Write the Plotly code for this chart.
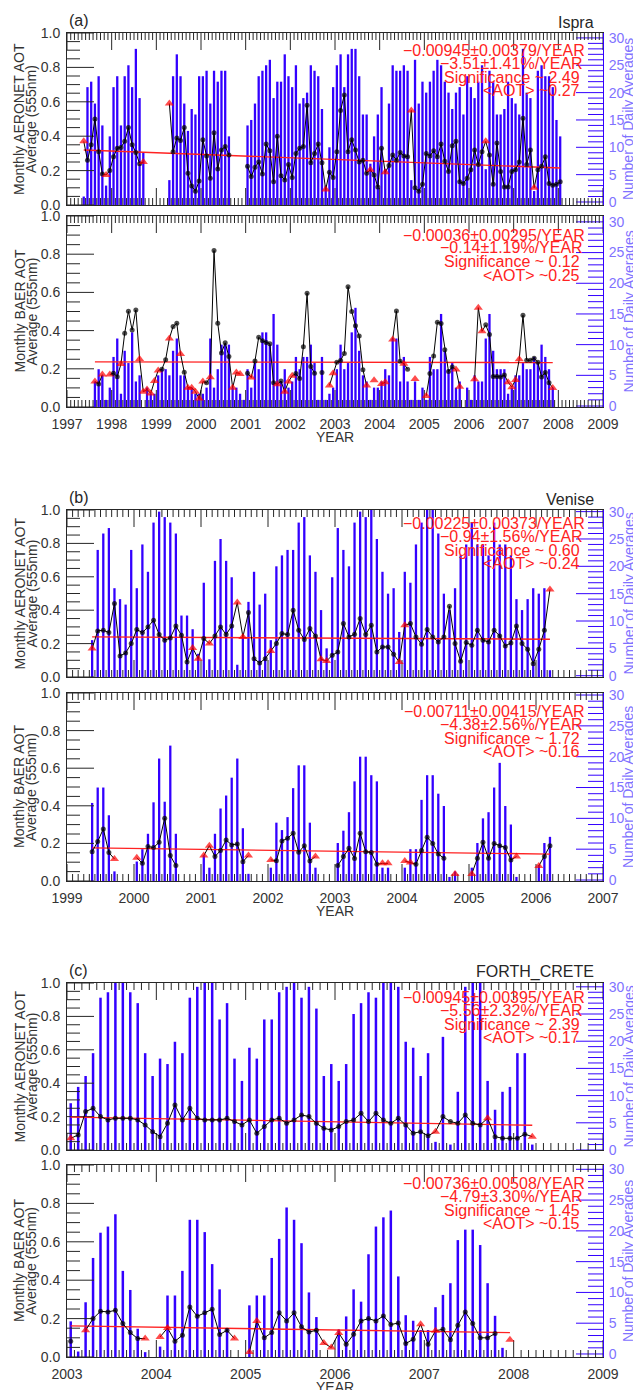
import plotly.graph_objects as go

# ---------------- DATA ----------------
N = None
A1_FIRST = (1997, 5)
A1_AOT = ([0.37, 0.26, 0.35, 0.50, 0.31, 0.18, 0.175, 0.20, 0.28, 0.33, 0.335, 0.37, 0.45, 0.35, 0.305, 0.24, 0.25]
          + [N] * 6
          + [0.59, 0.31, 0.39, 0.375, 0.45, 0.185, 0.11, 0.08, 0.14, 0.38, 0.285, 0.155, 0.42, 0.21, 0.32, 0.34, 0.29]
          + [N] * 4
          + [0.225, 0.165, 0.22, 0.25, 0.18, 0.355, 0.315, 0.135, 0.40, 0.17, 0.145, 0.235, 0.16, 0.30, 0.33, 0.34, 0.58, 0.245, 0.30, 0.355,
             0.245, 0.09, 0.19, 0.16, 0.31, 0.55, 0.64, 0.31, 0.38, 0.32, 0.25, 0.26, 0.185, 0.205, 0.175, 0.105, 0.33, 0.19, 0.23, 0.29,
             0.26, 0.305, 0.285, 0.28, 0.55, 0.10, 0.08, 0.12, 0.30, 0.285, 0.315, 0.28, 0.355, 0.255, 0.195, 0.345, 0.37, 0.135, 0.125, 0.155,
             0.205, 0.32, 0.235, 0.31, 0.37, 0.29, 0.12, 0.36, 0.195, 0.105, 0.105, 0.195, 0.205, 0.25, 0.505, 0.235, 0.32, 0.10, 0.205, 0.225,
             0.28, 0.125, 0.115, 0.12, 0.135])
A1_CNT = ([1, 21, 22, 18, 23, 14, 3, 12, 21, 23, 14, 23, 25, 21, 28, 19, 9]
          + [0] * 6
          + [4, 23, 27, 23, 18, 13, 17, 16, 23, 23, 24, 18, 24, 22, 24, 24, 12]
          + [0] * 4
          + [14, 15, 18, 23, 24, 25, 26, 19, 22, 22, 27, 23, 21, 25, 18, 19, 20, 25, 24, 23,
             17, 3, 10, 21, 25, 27, 21, 27, 28, 28, 23, 16, 16, 7, 12, 16, 21, 6, 18, 25,
             24, 24, 25, 24, 4, 26, 18, 22, 20, 22, 24, 26, 25, 22, 20, 17, 20, 21, 16, 23,
             21, 19, 22, 25, 6, 24, 22, 16, 16, 17, 22, 19, 18, 16, 28, 20, 19, 2, 24, 25,
             23, 23, 21, 15, 12])
A1_TRI = [0, 6, 16, 23, 65, 77, 81, 88, 108, 121]
A1_TREND = [0.32, 0.215]
A1_STATS = ["\u22120.00945\u00b10.00379/YEAR", "\u22123.51\u00b11.41%/YEAR", "Significance ~ 2.49", "<AOT> ~0.27"]

A2_FIRST = (1997, 8)
A2_AOT = [0.133, 0.12, 0.17, N, 0.17, 0.177, 0.159, 0.225, 0.386, 0.501, 0.403, 0.508, 0.251, 0.080, 0.092, 0.071, 0.136, 0.191, 0.198, 0.248,
          0.359, 0.421, 0.439, 0.278, 0.182, 0.101, 0.101, 0.080, 0.044, 0.133, 0.127, 0.156, 0.819, 0.439, 0.283, 0.336, 0.264, 0.101, 0.181, 0.173,
          N, 0.177, 0.154, 0.241, 0.365, 0.347, 0.338, 0.331, 0.127, 0.119, 0.136, 0.080, 0.133, 0.163, 0.175, 0.149, 0.315, 0.596, 0.212, 0.177,
          N, 0.18, N, 0.113, 0.177, 0.234, 0.244, 0.28, 0.63, 0.50, 0.425, 0.372, 0.195, 0.113, N, 0.14, N, 0.12, 0.13, N,
          0.354, 0.503, 0.239, 0.227, 0.198, N, 0.147, N, N, 0.058, 0.175, 0.267, 0.444, 0.437, 0.30, 0.186, 0.209, 0.196, 0.106, N,
          N, N, 0.145, 0.52, 0.396, 0.43, 0.38, 0.16, 0.16, 0.157, 0.168, 0.13, 0.104, 0.142, 0.25, 0.48, 0.245, 0.245, 0.255, 0.234,
          0.157, 0.181, 0.127, 0.10]
A2_CNT = [4, 6, 5, 1, 3, 8, 11, 2, 9, 7, 12, 4, 5, 0, 3, 2, 2, 5, 6, 6,
          5, 9, 11, 5, 5, 3, 3, 2, 2, 2, 3, 11, 3, 6, 10, 10, 10, 3, 3, 2,
          1, 6, 3, 7, 6, 12, 12, 10, 15, 10, 4, 6, 3, 4, 8,
          6, 8, 8, 10, 7, 1, 8, 1, 2, 3, 6, 10, 6, 7, 12, 16, 9, 5, 4, 1,
          3, 3, 4, 6, 5, 11, 11, 4, 8, 4, 1, 4, 1, 3, 1, 8, 6, 6, 15, 9,
          6, 7, 3, 4, 0, 3, 1, 5, 4, 4, 11, 15, 9, 6, 6, 6, 2, 3, 5, 5,
          7, 6, 6, 8, 7, 10, 8, 6, 3]
A2_TRI = [0, 2, 4, 7, 12, 13, 14, 15, 16, 17, 20, 23, 25, 26, 27, 28, 29, 31, 37, 38, 39, 42, 49, 51, 52, 53,
          63, 64, 73, 75, 77, 78, 80, 83, 86, 89, 97, 98, 102, 103, 104, 111, 112, 113, 114, 123]
A2_TREND = [0.236, 0.233]
A2_STATS = ["\u22120.00036\u00b10.00295/YEAR", "\u22120.14\u00b11.19%/YEAR", "Significance ~ 0.12", "<AOT> ~0.25"]

B1_FIRST = (1999, 5)
B1_AOT = [0.17, 0.276, 0.28, 0.266, 0.44, 0.126, 0.144, 0.20, 0.284, 0.266, 0.30, 0.34, 0.254, 0.22, 0.234, 0.306, 0.25, 0.09, 0.174, 0.11,
          0.23, 0.20, 0.246, 0.30, 0.254, 0.306, 0.446, 0.24, 0.386, 0.11, 0.084, 0.11, 0.156, 0.20, 0.26, 0.254, 0.40, 0.28, 0.224, 0.29,
          0.246, 0.106, 0.096, 0.13, 0.15, 0.32, 0.24, 0.256, 0.35, 0.254, 0.31, 0.15, 0.18, 0.18, 0.136, 0.09, 0.31, 0.32, 0.24, 0.196,
          0.284, 0.24, 0.21, 0.24, 0.424, 0.20, 0.094, 0.206, 0.19, 0.28, 0.22, 0.21, 0.28, 0.246, 0.186, 0.204, 0.306, 0.20, 0.166, 0.08,
          0.166, 0.28, 0.524]
B1_CNT = [6.5, 23, 26, 27, 16, 14, 13, 23, 16, 24, 19, 28, 30, 29, 28, 26, 11, 11, 8.5, 4,
          17, 3, 21, 25, 21, 18, 2, 7, 13.5, 19, 13, 15, 6.5, 20, 22, 23, 23, 28, 29, 22,
          19, 12, 5, 18, 27, 23, 20, 28, 30, 29, 31, 25, 19, 15, 16, 8, 19, 17, 24, 28,
          31, 31, 26, 15, 12, 16, 22, 24, 28, 24, 24, 22, 28, 24, 24, 22, 14, 12, 14, 16,
          15, 16, 1]
B1_TRI = [0, 18, 19, 21, 26, 27, 32, 41, 42, 55, 56, 82]
B1_TREND = [0.24, 0.226]
B1_STATS = ["\u22120.00225\u00b10.00373/YEAR", "\u22120.94\u00b11.56%/YEAR", "Significance ~ 0.60", "<AOT> ~0.24"]

B2_FIRST = (1999, 5)
B2_AOT = [0.156, 0.21, 0.277, 0.151, 0.117, N, N, N, 0.124, 0.094, 0.183, 0.178, 0.206, 0.334, 0.135, 0.082, N, N, N, N,
          0.135, 0.188, 0.13, 0.162, 0.218, 0.192, 0.197, 0.103, 0.135, N, N, N, 0.112, 0.108, 0.213, 0.227, 0.254, 0.153, 0.188, 0.107,
          0.13, N, N, N, 0.082, 0.13, 0.174, 0.12, 0.254, 0.156, 0.151, 0.089, 0.094, 0.094, N, N, 0.107, 0.098, 0.089, 0.162,
          0.233, 0.20, 0.144, 0.121, N, 0.037, N, N, 0.037, 0.121, 0.206, 0.121, 0.20, 0.188, 0.178, 0.112, 0.13, N, N, N,
          0.08, 0.13, 0.187]
B2_CNT = [12.5, 15, 15, 10.5, 1.4, 0, 0, 0, 3, 5, 7.5, 12.6, 19.7, 12.7, 21.8, 7.5, 0, 0, 0, 0,
          4, 2, 7.5, 11.6, 13.7, 16.6, 19.7, 8.4, 1, 0, 0, 0, 2, 9.3, 8.1, 10.2, 14.9, 18.6, 18.6, 9.3,
          2, 0, 0, 0, 6, 8, 11, 16, 20, 20, 17, 16, 2, 2, 0, 0, 2, 5, 5, 13,
          17, 17, 14, 12, 0.5, 1.4, 0, 0, 2, 6, 10, 11, 15, 19, 12, 9, 0.5, 0, 0, 0,
          2.4, 6, 7]
B2_TRI = [4, 8, 20, 21, 28, 32, 40, 52, 53, 56, 57, 65, 68, 76, 80]
B2_TREND = [0.176, 0.143]
B2_STATS = ["\u22120.00711\u00b10.00415/YEAR", "\u22124.38\u00b12.56%/YEAR", "Significance ~ 1.72", "<AOT> ~0.16"]

C1_FIRST = (2003, 1)
C1_AOT = [0.07, 0.09, 0.23, 0.25, 0.20, 0.18, 0.19, 0.19, 0.19, 0.18, 0.15, 0.11, 0.08, 0.16, 0.27, 0.18, 0.25, 0.19, 0.18, 0.18,
          0.18, 0.19, 0.17, 0.15, 0.18, 0.10, 0.14, 0.18, 0.19, 0.16, 0.18, 0.21, 0.20, 0.16, 0.13, 0.12, 0.14, 0.17, 0.18, 0.22,
          0.17, 0.22, 0.18, 0.16, 0.19, 0.15, 0.10, 0.11, 0.085, 0.11, 0.20, 0.17, 0.16, 0.21, 0.16, 0.15, 0.19, 0.08, 0.07, 0.07,
          0.07, 0.095, 0.08]
C1_CNT = [8.6, 11.6, 13.6, 17.8, 28, 29, 31, 31, 29, 27, 17.8, 13.6, 16.8, 15.8, 19.9, 17.8, 28, 30, 31, 31,
          24, 27, 16.8, 12.7, 18.8, 16.8, 24, 24, 29, 30, 31, 28, 30, 26, 13.6, 15.8, 12.7, 15.8, 25, 27,
          29, 28, 31, 31, 30, 19.9, 18.8, 13.6, 17.8, 1.5, 20.8, 1, 10.7, 30, 31, 31, 12.7, 7.4, 10.7, 11.6,
          17.8, 17.8, 1]
C1_TRI = [0, 49, 56, 62]
C1_TREND = [0.197, 0.148]
C1_STATS = ["\u22120.00945\u00b10.00395/YEAR", "\u22125.56\u00b12.32%/YEAR", "Significance ~ 2.39", "<AOT> ~0.17"]

C2_FIRST = (2003, 1)
C2_AOT = [0.082, N, 0.139, 0.20, 0.238, 0.235, 0.243, 0.174, 0.127, 0.096, 0.096, N, 0.104, 0.151, 0.082, 0.113, 0.261, 0.212, 0.23, 0.249,
          0.117, 0.139, 0.096, N, 0.026, 0.188, 0.10, 0.127, 0.23, 0.188, 0.23, 0.157, 0.13, 0.139, 0.073, 0.049, 0.125, 0.066, 0.118, 0.188,
          0.20, 0.188, 0.214, 0.169, 0.177, 0.07, 0.092, 0.17, 0.066, 0.137, 0.144, 0.09, 0.165, 0.235, 0.174, 0.10, 0.10, 0.122, N, 0.09]
C2_CNT = [5.3, 0.4, 8.4, 15.6, 19.7, 20.7, 22.7, 13.5, 10.4, 4.1, 0.3, 0, 1.2, 9.5, 9.5, 13.5, 21.8, 21.8, 19.8, 14.6,
          10.5, 4.1, 0, 0, 7.9, 9.5, 9.5, 15.6, 18.7, 23.8, 21.8, 18, 10, 6, 0, 0, 4, 6.1, 10.5, 8.5,
          16.2, 20.7, 22.2, 23.3, 12.6, 6.3, 5.4, 3.9, 3.9, 7.6, 9.6, 11.5, 18.5, 20.2, 20.2, 17.7, 11.5, 6.2, 1, 0]
C2_TRI = [2, 10, 12, 13, 22, 24, 25, 34, 35, 36, 47, 49, 59]
C2_TREND = [0.162, 0.127]
C2_STATS = ["\u22120.00736\u00b10.00508/YEAR", "\u22124.79\u00b13.30%/YEAR", "Significance ~ 1.45", "<AOT> ~0.15"]

AERONET_TITLE = ["Monthly AERONET AOT", "Average (555nm)"]
BAER_TITLE = ["Monthly BAER AOT", "Average (555nm)"]
RIGHT_TITLE = "Number of Daily Averages"
SITES = [("(a)", "Ispra"), ("(b)", "Venise"), ("(c)", "FORTH_CRETE")]

# ---------------- STYLE / LAYOUT ----------------
W, H = 633, 1390
FONT = "Liberation Sans, Arial, Helvetica, sans-serif"
BLUE = "#3300ff"
LBLUE = "#7f72ff"
RED = "#ff2222"
DARK = "#262626"
GREY = "#333333"
XL, XR = 67, 603

PANELS = [
    dict(first=A1_FIRST, aot=A1_AOT, cnt=A1_CNT, tri=A1_TRI, trend=A1_TREND, stats=A1_STATS, title=AERONET_TITLE,
         xr=(1997, 2009), top=33, bot=205, rr=(-0.55, 30.9), labels=False, bw=2.3, sy=50),
    dict(first=A2_FIRST, aot=A2_AOT, cnt=A2_CNT, tri=A2_TRI, trend=A2_TREND, stats=A2_STATS, title=BAER_TITLE,
         xr=(1997, 2009), top=216, bot=407, rr=(-0.16, 30.96), labels=True, bw=2.3, sy=235),
    dict(first=B1_FIRST, aot=B1_AOT, cnt=B1_CNT, tri=B1_TRI, trend=B1_TREND, stats=B1_STATS, title=AERONET_TITLE,
         xr=(1999, 2007), top=510, bot=677, rr=(-0.24, 30.3), labels=False, bw=2.3, sy=523),
    dict(first=B2_FIRST, aot=B2_AOT, cnt=B2_CNT, tri=B2_TRI, trend=B2_TREND, stats=B2_STATS, title=BAER_TITLE,
         xr=(1999, 2007), top=693, bot=881, rr=(-0.16, 30.33), labels=True, bw=2.3, sy=711),
    dict(first=C1_FIRST, aot=C1_AOT, cnt=C1_CNT, tri=C1_TRI, trend=C1_TREND, stats=C1_STATS, title=AERONET_TITLE,
         xr=(2003, 2009), top=983, bot=1150, rr=(0.0, 30.7), labels=False, bw=2.5, sy=997),
    dict(first=C2_FIRST, aot=C2_AOT, cnt=C2_CNT, tri=C2_TRI, trend=C2_TREND, stats=C2_STATS, title=BAER_TITLE,
         xr=(2003, 2009), top=1165, bot=1357, rr=(-0.49, 30.7), labels=True, bw=2.5, sy=1183),
]
STAT_DX = [587, 585, 582, 582]
STAT_DY = [0, 13, 27, 40]
# tick lengths in pixels (IDL-like inside ticks)
X_MAJ, X_MIN = 17, 7
L_MAJ, L_MIN = 27, 13
R_MAJ, R_MIN = 27, 15


def px(x):
    return x / W


def py(y):
    return 1 - y / H


def months(first, n):
    y0, m0 = first
    return [y0 + (m0 - 1 + 0.5 + i) / 12.0 for i in range(n)]


def segs(pairs):
    xs, ys = [], []
    for (xa, ya_), (xb, yb) in pairs:
        xs += [xa, xb, None]
        ys += [ya_, yb, None]
    return xs, ys


fig = go.Figure()
layout = dict(width=W, height=H, margin=dict(l=0, r=0, t=0, b=0, pad=0, autoexpand=False), showlegend=False,
              paper_bgcolor="white", plot_bgcolor="white", font=dict(family=FONT, color=GREY),
              barmode="overlay", template="none")
annotations = []

for i, p in enumerate(PANELS):
    xid = "x" if i == 0 else f"x{i+1}"
    yc = "y" if i == 0 else f"y{2*i+1}"
    ya = f"y{2*i+2}"
    xkey = "xaxis" if i == 0 else f"xaxis{i+1}"
    yckey = "yaxis" if i == 0 else f"yaxis{2*i+1}"
    yakey = f"yaxis{2*i+2}"

    n = len(p["aot"])
    xs = months(p["first"], n)
    x0, x1 = p["xr"]
    yrs = x1 - x0
    hp = p["bot"] - p["top"]
    dxp = yrs / (XR - XL)          # years per pixel
    r0, r1 = p["rr"]
    dcp = (r1 - r0) / hp           # counts per pixel
    bw = p["bw"] * dxp

    # bars (number of daily averages) on the right-hand axis
    fig.add_trace(go.Bar(x=xs, y=[(c - r0) if c else None for c in p["cnt"]], base=r0, width=bw,
                         marker=dict(color=BLUE, line=dict(width=0)), xaxis=xid, yaxis=yc,
                         hoverinfo="skip"))
    # right axis tick marks (blue, inside)
    rt = []
    for c in range(0, 31):
        if c > r1:
            break
        L = R_MAJ if c % 5 == 0 else R_MIN
        rt.append(((x1 - L * dxp, c), (x1, c)))
    tx, ty = segs(rt)
    fig.add_trace(go.Scatter(x=tx, y=ty, mode="lines", line=dict(color=BLUE, width=1),
                             xaxis=xid, yaxis=yc, hoverinfo="skip"))

    # left axis + x axis tick marks (dark, inside)
    lt = []
    for j in range(0, 21):
        v = j * 0.05
        L = L_MAJ if j % 4 == 0 else L_MIN
        lt.append(((x0, v), (x0 + L * dxp, v)))
    for k in range(0, yrs * 12 + 1):
        xv = x0 + k / 12.0
        L = X_MAJ if k % 12 == 0 else X_MIN
        lt.append(((xv, 0), (xv, L / hp)))
        lt.append(((xv, 1), (xv, 1 - L / hp)))
    tx, ty = segs(lt)
    fig.add_trace(go.Scatter(x=tx, y=ty, mode="lines", line=dict(color=DARK, width=1),
                             xaxis=xid, yaxis=ya, hoverinfo="skip"))

    # trend line
    valid = [k for k, v in enumerate(p["aot"]) if v is not None]
    fig.add_trace(go.Scatter(x=[xs[valid[0]], xs[valid[-1]]], y=p["trend"], mode="lines",
                             line=dict(color=RED, width=1.4), xaxis=xid, yaxis=ya, hoverinfo="skip"))
    # monthly AOT
    tri = set(p["tri"])
    fig.add_trace(go.Scatter(x=xs, y=p["aot"], mode="lines+markers", connectgaps=False,
                             line=dict(color="black", width=1),
                             marker=dict(symbol=["triangle-up" if k in tri else "circle" for k in range(n)],
                                         color=["#ff0000" if k in tri else "black" for k in range(n)],
                                         size=[8 if k in tri else 5 for k in range(n)],
                                         line=dict(width=0)),
                             xaxis=xid, yaxis=ya, hoverinfo="skip"))

    dom = [py(p["bot"]), py(p["top"])]
    layout[xkey] = dict(domain=[px(XL), px(XR)], range=[x0, x1], anchor=yc, automargin=False,
                        showline=True, linecolor=DARK, linewidth=1, mirror=True, ticks="",
                        dtick=1, tick0=2000, tickformat="d", showticklabels=p["labels"],
                        ticklabelstandoff=4,
                        tickfont=dict(size=14, color=GREY, family=FONT),
                        showgrid=False, zeroline=False)
    layout[yckey] = dict(domain=dom, range=[r0, r1], anchor=xid, side="right", automargin=False,
                         showline=True, linecolor=BLUE, linewidth=1, ticks="",
                         dtick=5, tick0=0, ticklabelstandoff=2,
                         tickfont=dict(size=14, color=LBLUE, family=FONT),
                         showgrid=False, zeroline=False)
    layout[yakey] = dict(overlaying=yc, anchor=xid, side="left", range=[0, 1], automargin=False,
                         showline=True, linecolor=DARK, linewidth=1, ticks="",
                         dtick=0.2, tick0=0, tickformat=".1f", ticklabelstandoff=3,
                         tickfont=dict(size=14, color=GREY, family=FONT),
                         showgrid=False, zeroline=False)

    cy = (p["top"] + p["bot"]) / 2
    annotations.append(dict(x=px(19), y=py(cy), xref="paper", yref="paper", text=p["title"][0],
                            textangle=-90, showarrow=False, xanchor="center", yanchor="middle",
                            font=dict(size=14, color=GREY, family=FONT)))
    annotations.append(dict(x=px(31), y=py(cy), xref="paper", yref="paper", text=p["title"][1],
                            textangle=-90, showarrow=False, xanchor="center", yanchor="middle",
                            font=dict(size=14, color=GREY, family=FONT)))
    annotations.append(dict(x=px(628), y=py(cy), xref="paper", yref="paper", text=RIGHT_TITLE,
                            textangle=-90, showarrow=False, xanchor="center", yanchor="middle",
                            font=dict(size=14, color=LBLUE, family=FONT)))
    for k, line in enumerate(p["stats"]):
        annotations.append(dict(x=px(STAT_DX[k]), y=py(p["sy"] + STAT_DY[k]), xref="paper", yref="paper",
                                text=line.replace("<", "&lt;").replace(">", "&gt;"), showarrow=False,
                                xanchor="right", yanchor="middle",
                                font=dict(size=16, color=RED, family=FONT)))
    if p["labels"]:
        annotations.append(dict(x=px((XL + XR) / 2), y=py(p["bot"] + 30), xref="paper", yref="paper",
                                text="YEAR", showarrow=False, xanchor="center", yanchor="middle",
                                font=dict(size=14, color=GREY, family=FONT)))
    else:
        letter, site = SITES[i // 2]
        annotations.append(dict(x=px(XL), y=py(p["top"] - 13), xref="paper", yref="paper", text=letter,
                                showarrow=False, xanchor="left", yanchor="middle",
                                font=dict(size=16, color=DARK, family=FONT)))
        annotations.append(dict(x=px(596), y=py(p["top"] - 11), xref="paper", yref="paper", text=site,
                                showarrow=False, xanchor="right", yanchor="middle",
                                font=dict(size=16, color=DARK, family=FONT)))

layout["annotations"] = annotations
fig.update_layout(**layout)
fig.write_html("out.html", config={"displayModeBar": False, "staticPlot": True},
               post_script="document.body.style.margin='0px';document.body.style.overflow='hidden';")
